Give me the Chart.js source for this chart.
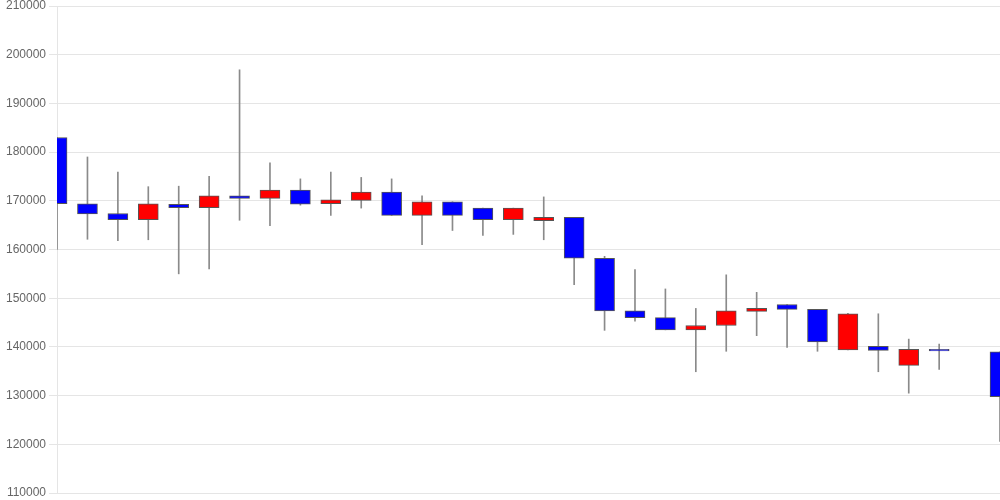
<!DOCTYPE html>
<html>
<head>
<meta charset="utf-8">
<script src="https://cdn.jsdelivr.net/npm/chart.js@4"></script>
<style>
html,body{margin:0;padding:0;background:#fff;}
#wrap{width:1000px;height:500px;position:relative;}
</style>
</head>
<body>
<div id="wrap"><canvas id="c"></canvas></div>
<script>
const categories = ['1','2','3','4','5','6','7','8','9','10','11','12','13','14','15','16','17','18','19','20','21','22','23','24','25','26','27','28','29','30','31','32'];
const openValues  = [183000,169400,167400,166100,169300,168600,171000,170500,172200,169400,170100,171800,167000,169800,168500,166100,165900,166600,158200,147400,146000,143500,144400,147300,148700,147700,139400,140100,136200,139500,null,139000];
const highValues  = [183000,179000,175900,172900,173000,175000,196900,177800,174500,175900,174800,174500,171000,169800,168500,168500,170800,166600,158600,155900,151900,147900,154800,151200,148700,147700,146900,146800,141600,140600,null,139000];
const lowValues   = [160000,162100,161800,162000,155000,156000,166000,164900,169100,167000,168500,167000,161000,163900,162900,163100,162000,152800,143400,145300,143500,134900,139100,142300,139900,139100,139400,134900,130500,135400,null,120600];
const closeValues = [169400,167300,166100,169400,168600,171000,170500,172200,169300,170200,171800,167000,169800,167000,166100,168500,166600,158200,147400,146000,143500,144400,147400,147900,147700,141000,146800,139300,139500,139200,null,129800];
const yTicks = {min:110000, max:210000, step:10000};

const bodies = categories.map((_, i) => openValues[i] === null ? null : [openValues[i], closeValues[i]]);
const wicks = categories.map((_, i) => lowValues[i] === null ? null : [lowValues[i], highValues[i]]);
const bodyColors = categories.map((_, i) => (closeValues[i] < openValues[i]) ? '#0000ff' : '#ff0000');

new Chart(document.getElementById('c'), {
  type: 'bar',
  data: {
    labels: categories,
    datasets: [
      {
        data: bodies,
        backgroundColor: bodyColors,
        borderColor: '#555555',
        borderWidth: 1,
        borderSkipped: false,
        barThickness: 20,
        grouped: false
      },
      {
        data: wicks,
        backgroundColor: '#8a8a8a',
        borderWidth: 0,
        barThickness: 1,
        grouped: false
      }
    ]
  },
  options: {
    responsive: true,
    maintainAspectRatio: false,
    animation: false,
    layout: { padding: { top: 0, bottom: 0, left: 3, right: 0 } },
    plugins: { legend: { display: false }, tooltip: { enabled: false } },
    scales: {
      x: { display: false, offset: false },
      y: {
        min: yTicks.min, max: yTicks.max,
        ticks: { stepSize: yTicks.step, color: '#666', font: { size: 12 }, callback: v => String(v) },
        grid: { color: 'rgba(0,0,0,0.1)' },
        afterFit: s => { s.paddingTop = 6; s.paddingBottom = 7; }
      }
    }
  }
});
</script>
</body>
</html>
